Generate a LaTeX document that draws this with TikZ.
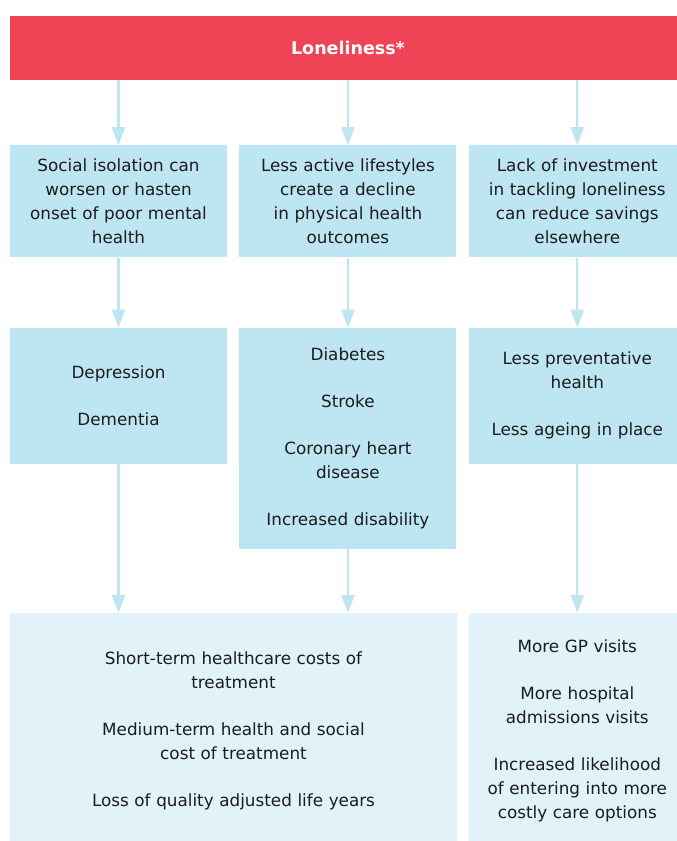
\documentclass[tikz,border=0pt]{standalone}
\usepackage{fontspec}
\setmainfont{DejaVu Sans}
\usepackage{xcolor}
\usetikzlibrary{positioning}
\usetikzlibrary{arrows.meta}

\definecolor{lonered}{HTML}{EF4456}
\definecolor{boxblue}{HTML}{BEE5F2}
\definecolor{paleblue}{HTML}{E1F2F9}
\definecolor{inktext}{HTML}{1C1C1C}

\begin{document}
\begin{tikzpicture}[x=1pt, y=-1pt]

        \def\g{12pt}
        \def\h{65pt}
        \def\v{70pt}

        % Shared looks for the blocks and the arrows
        \tikzset{
            banner/.style={fill=lonered, text=white, inner sep=0pt,
                minimum width=676pt, minimum height=64pt,
                font=\fontsize{17.5}{24}\selectfont\bfseries},
            box/.style={fill=boxblue, text=inktext, inner sep=0pt,
                text width=217pt, align=center, anchor=north,
                font=\fontsize{16.8}{24}\selectfont},
            pale/.style={box, fill=paleblue},
            arr/.style={draw=boxblue, line width=2.2pt,
                -{Triangle[width=13pt,length=18pt]}}
        }

        \useasboundingbox (0,0) rectangle (677,841);
        \clip (0,0) rectangle (677,841);

        \begin{scope}
            \node (L) [banner] at (348,48) {Loneliness*};

            % first row: the three ways in
            \node (A1) [box, minimum height=112pt,
                below right=\h and 0pt of L.south west, anchor=north west]
            {Social isolation can\\worsen or hasten\\onset of poor mental\\health};
            \node (A2) [box, minimum height=112pt, right=\g of A1]
            {Less active lifestyles\\create a decline\\in physical health\\outcomes};
            \node (A3) [box, minimum height=112pt, right=\g of A2]
            {Lack of investment\\in tackling loneliness\\can reduce savings\\elsewhere};

            % second row: the conditions
            \node (B1) [box, minimum height=136pt, below=\v of A1]
            {Depression\\[23pt]Dementia};
            \node (B2) [box, minimum height=221pt, below=\v of A2]
            {Diabetes\\[23pt]Stroke\\[23pt]Coronary heart\\disease\\[23pt]Increased disability};
            \node (B3) [box, minimum height=136pt, below=\v of A3]
            {Less preventative\\health\\[23pt]Less ageing in place};

            % third row: the costs
            \node (C1) [pale, text width=447pt, minimum height=235pt,
                below right=149pt and 0pt of B1.south west, anchor=north west]
            {Short-term healthcare costs of\\treatment\\[23pt]Medium-term health and social\\cost of treatment\\[23pt]Loss of quality adjusted life years};
            \node (C2) [pale, minimum height=235pt, below=149pt of B3]
            {More GP visits\\[23pt]More hospital\\admissions visits\\[23pt]Increased likelihood\\of entering into more\\costly care options};
        \end{scope}

        \begin{scope}[arr]
            \foreach\x in {1,...,3}
            \draw (L.south -| A\x) -- (A\x);
            \foreach\x in {1,...,3}
            \draw (A\x) -- (B\x);
            \draw (B1) -- (C1.north -| B1);
            \draw (B2) -- (C1.north -| B2);
            \draw (B3) -- (C2);
        \end{scope}

\end{tikzpicture}
\end{document}
